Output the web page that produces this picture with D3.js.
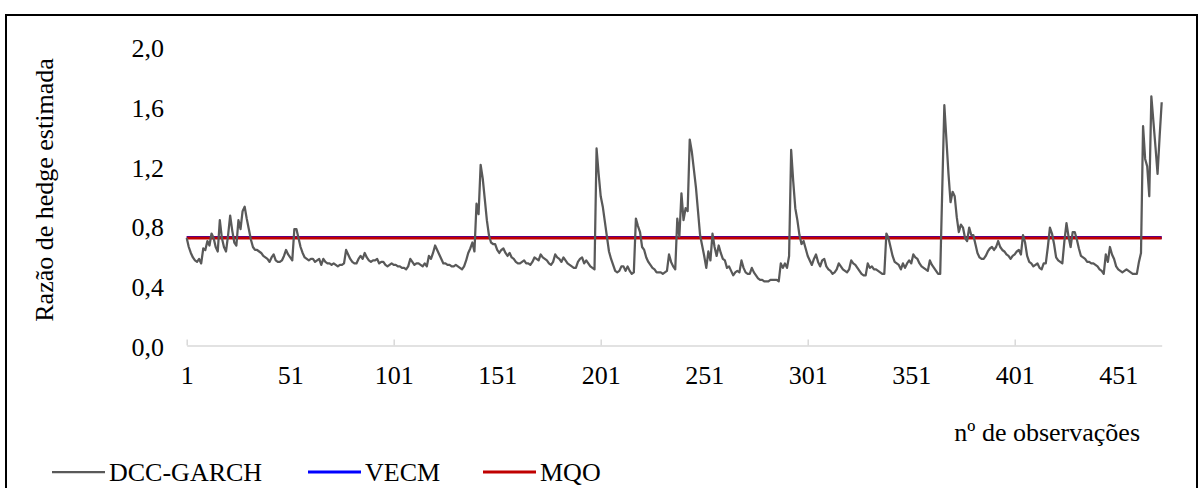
<!DOCTYPE html>
<html>
<head>
<meta charset="utf-8">
<script src="https://cdn.jsdelivr.net/npm/d3@7"></script>
<style>
body{margin:0;background:#fff;}
svg text{font-family:"Liberation Serif","Times New Roman",Times,serif;fill:#000;}
</style>
</head>
<body>
<svg id="chart" width="1204" height="488"></svg>
<script>
// --- data ---
var dccGarch=[
0.72,0.66,0.62,0.59,0.57,0.56,0.58,0.55,0.65,0.64,
0.70,0.67,0.75,0.72,0.66,0.63,0.84,0.72,0.66,0.63,
0.74,0.87,0.77,0.69,0.67,0.84,0.78,0.90,0.93,0.85,
0.78,0.71,0.66,0.64,0.64,0.63,0.62,0.60,0.59,0.58,
0.56,0.59,0.61,0.57,0.56,0.56,0.57,0.60,0.64,0.61,
0.59,0.57,0.78,0.78,0.72,0.66,0.62,0.59,0.58,0.57,
0.58,0.58,0.56,0.57,0.58,0.54,0.58,0.56,0.55,0.55,
0.54,0.55,0.54,0.53,0.54,0.54,0.55,0.64,0.61,0.58,
0.56,0.55,0.55,0.58,0.60,0.58,0.62,0.59,0.57,0.56,
0.57,0.57,0.58,0.55,0.56,0.56,0.54,0.53,0.54,0.55,
0.54,0.54,0.53,0.53,0.52,0.52,0.51,0.53,0.58,0.56,
0.54,0.55,0.55,0.54,0.53,0.55,0.53,0.60,0.58,0.62,
0.67,0.64,0.61,0.58,0.55,0.55,0.54,0.54,0.53,0.53,
0.54,0.53,0.52,0.51,0.53,0.57,0.62,0.65,0.69,0.63,
0.95,0.88,1.21,1.12,0.98,0.84,0.74,0.69,0.68,0.68,
0.64,0.62,0.64,0.65,0.62,0.60,0.62,0.59,0.58,0.56,
0.55,0.55,0.56,0.57,0.55,0.55,0.54,0.56,0.59,0.58,
0.57,0.61,0.59,0.58,0.57,0.55,0.54,0.56,0.61,0.59,
0.58,0.56,0.59,0.57,0.55,0.54,0.53,0.52,0.52,0.56,
0.58,0.59,0.55,0.57,0.55,0.53,0.52,0.51,1.32,1.15,
1.00,0.93,0.83,0.73,0.63,0.58,0.54,0.50,0.49,0.50,
0.53,0.53,0.50,0.53,0.50,0.48,0.49,0.85,0.80,0.76,
0.66,0.64,0.59,0.56,0.54,0.52,0.51,0.49,0.49,0.49,
0.48,0.49,0.50,0.61,0.56,0.53,0.51,0.85,0.73,1.02,
0.84,0.92,0.90,1.38,1.30,1.18,1.06,0.90,0.74,0.67,
0.60,0.52,0.63,0.57,0.75,0.66,0.60,0.67,0.62,0.58,
0.57,0.52,0.53,0.50,0.47,0.49,0.50,0.49,0.57,0.52,
0.49,0.48,0.48,0.52,0.49,0.47,0.45,0.44,0.44,0.43,
0.43,0.43,0.44,0.44,0.44,0.44,0.43,0.55,0.52,0.55,
0.52,0.60,1.31,1.10,0.92,0.84,0.74,0.68,0.70,0.65,
0.60,0.57,0.54,0.58,0.61,0.56,0.53,0.57,0.58,0.53,
0.51,0.50,0.48,0.49,0.51,0.55,0.53,0.51,0.50,0.49,
0.51,0.57,0.55,0.54,0.52,0.50,0.48,0.47,0.47,0.55,
0.52,0.53,0.51,0.51,0.50,0.49,0.48,0.48,0.75,0.72,
0.66,0.60,0.56,0.55,0.54,0.51,0.55,0.52,0.55,0.57,
0.55,0.61,0.59,0.58,0.55,0.53,0.52,0.51,0.50,0.57,
0.54,0.52,0.50,0.48,0.48,1.05,1.61,1.38,1.15,0.96,
1.03,1.00,0.86,0.76,0.81,0.79,0.72,0.70,0.79,0.74,
0.74,0.68,0.62,0.59,0.58,0.58,0.60,0.63,0.65,0.66,
0.64,0.66,0.70,0.66,0.64,0.63,0.61,0.60,0.58,0.60,
0.61,0.63,0.64,0.61,0.74,0.69,0.60,0.56,0.55,0.53,
0.54,0.55,0.52,0.51,0.55,0.55,0.66,0.79,0.75,0.68,
0.59,0.57,0.56,0.55,0.70,0.82,0.73,0.66,0.76,0.76,
0.71,0.65,0.60,0.59,0.58,0.56,0.56,0.55,0.55,0.54,
0.53,0.51,0.50,0.48,0.61,0.56,0.66,0.61,0.58,0.53,
0.51,0.50,0.49,0.50,0.51,0.50,0.49,0.48,0.48,0.48,
0.56,0.62,1.47,1.25,1.20,1.00,1.67,1.50,1.33,1.15,
1.40,1.63
];
var vecm=0.723;
var mqo=0.720;
var yTicks=[0,0.4,0.8,1.2,1.6,2.0];
var xLabels=[1,51,101,151,201,251,301,351,401,451];
var xTickMarks=[1,101,201,301,401];
var seriesNames=["DCC-GARCH","VECM","MQO"];
var seriesColors=["#595959","#0000ff","#c00000"];

var svg=d3.select("#chart");
var obs=d3.range(1,dccGarch.length+1);

var x=d3.scaleLinear().domain([1,dccGarch.length]).range([186.7,1161.7]);
var y=d3.scaleLinear().domain([0,2]).range([345.5,47]);
var fmt=function(d){return d3.format(".1f")(d).replace(".",",");};

// outer frame
svg.append("rect").attr("x",6).attr("y",15).attr("width",1191).attr("height",500)
	.attr("fill","none").attr("stroke","#000").attr("stroke-width",2);

// y axis (labels only)
var gy=svg.append("g").attr("transform","translate(164,0)")
	.call(d3.axisLeft(y).tickValues(yTicks).tickSize(0).tickPadding(0).tickFormat(fmt));
gy.select(".domain").remove();
gy.attr("font-family",null);
gy.selectAll("text").attr("font-size",26).attr("dy","0.38em");

// x axis line + small tick marks
var gx=svg.append("g").attr("transform","translate(0,"+y(0)+")")
	.call(d3.axisTop(x).tickValues(xTickMarks).tickSize(6).tickSizeOuter(0).tickFormat(""));
gx.select(".domain").attr("stroke","#d9d9d9").attr("stroke-width",1.5);
gx.selectAll(".tick line").attr("stroke","#d9d9d9").attr("stroke-width",1.5);

// x labels
var gxl=svg.append("g").attr("transform","translate(0,384)")
	.call(d3.axisBottom(x).tickValues(xLabels).tickSize(0).tickPadding(0));
gxl.select(".domain").remove();
gxl.attr("font-family",null);
gxl.selectAll("text").attr("font-size",26).attr("dy",0);

// titles
svg.append("text").attr("transform","translate(53,190) rotate(-90)")
	.attr("text-anchor","middle").attr("font-size",26).text("Razão de hedge estimada");
svg.append("text").attr("x",1140).attr("y",441).attr("text-anchor","end")
	.attr("font-size",26).text("nº de observações");

// lines
var line=d3.line().x(function(d,i){return x(obs[i]);}).y(function(d){return y(d);});
svg.append("path").datum(obs.map(function(){return vecm;})).attr("d",line)
	.attr("fill","none").attr("stroke",seriesColors[1]).attr("stroke-width",3);
svg.append("path").datum(obs.map(function(){return mqo;})).attr("d",line)
	.attr("fill","none").attr("stroke",seriesColors[2]).attr("stroke-width",3);
svg.append("path").datum(dccGarch).attr("d",line)
	.attr("fill","none").attr("stroke",seriesColors[0]).attr("stroke-width",2.25)
	.attr("stroke-linejoin","round");

// legend
var legX=[52,308,483];
var leg=svg.selectAll(".leg").data(seriesNames).enter().append("g").attr("class","leg")
	.attr("transform",function(d,i){return "translate("+legX[i]+",472)";});
leg.append("line").attr("x1",0).attr("x2",53).attr("y1",0).attr("y2",0)
	.attr("stroke",function(d,i){return seriesColors[i];}).attr("stroke-width",function(d,i){return i==0?2.25:3;});
leg.append("text").attr("x",57).attr("y",9).attr("font-size",26).text(function(d){return d;});
</script>
</body>
</html>
